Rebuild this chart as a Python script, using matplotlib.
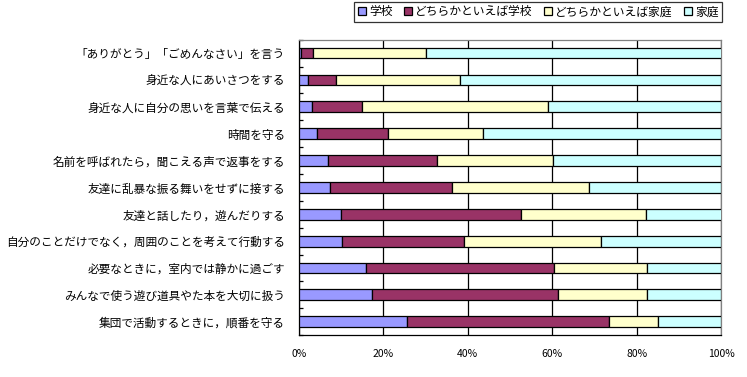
import numpy as np
import matplotlib.pyplot as plt

plt.rcParams['font.family'] = ['Noto Sans CJK JP', 'DejaVu Sans']

items = ['「ありがとう」「ごめんなさい」を言う',
         '身近な人にあいさつをする',
         '身近な人に自分の思いを言葉で伝える',
         '時間を守る',
         '名前を呼ばれたら，聞こえる声で返事をする',
         '友達に乱暴な振る舞いをせずに接する',
         '友達と話したり，遊んだりする',
         '自分のことだけでなく，周囲のことを考えて行動する',
         '必要なときに，室内では静かに過ごす',
         'みんなで使う遊び道具やた本を大切に扱う',
         '集団で活動するときに，順番を守る']

series = ['学校', 'どちらかといえば学校', 'どちらかといえば家庭', '家庭']
school = [0.5, 2.1, 3.2, 4.2, 7.0, 7.5, 9.9, 10.3, 15.8, 17.4, 25.7]
rather_school = [2.8, 6.6, 11.8, 16.8, 25.6, 28.7, 42.6, 28.7, 44.5, 44.0, 47.8]
rather_home = [26.8, 29.4, 44.1, 22.5, 27.5, 32.6, 29.6, 32.6, 22.0, 21.1, 11.6]
home = [70.0, 61.9, 40.9, 56.5, 39.9, 31.2, 18.0, 28.4, 17.7, 17.5, 14.9]
colors = ['#9999FF', '#993366', '#FFFFCC', '#CCFFFF']

fig = plt.figure(figsize=(7.47, 3.77), dpi=100)
ax = fig.add_axes([0.4, 0.111, 0.5656, 0.7837])

y = np.arange(len(items))
left = np.zeros(len(items))
for name, vals, c in zip(series, [school, rather_school, rather_home, home], colors):
    vals = np.array(vals)
    ax.barh(y, vals, left=left, height=0.4, color=c, edgecolor='black',
            linewidth=0.9, label=name, zorder=3)
    left += vals

ax.set_xlim(0, 100)
ax.set_ylim(len(items) - 0.5, -0.5)
ax.set_xticks([0, 20, 40, 60, 80, 100])
ax.set_xticklabels(['0%', '20%', '40%', '60%', '80%', '100%'], fontsize=7.5)
ax.tick_params(axis='x', length=0, pad=10)
ax.grid(axis='x', color='black', linewidth=0.9, zorder=0)

ax.set_yticks(y)
ax.set_yticklabels(items, fontsize=8.4)
ax.set_yticks(np.arange(len(items) + 1) - 0.5, minor=True)
ax.tick_params(axis='y', which='major', length=0, pad=10)
ax.tick_params(axis='y', which='minor', length=3, direction='in', width=0.9)

for s in ['left', 'bottom']:
    ax.spines[s].set_color('black')
    ax.spines[s].set_linewidth(0.9)
for s in ['top', 'right']:
    ax.spines[s].set_color('#808080')
    ax.spines[s].set_linewidth(0.9)

leg = fig.legend(loc='upper right', bbox_to_anchor=(0.967, 0.995), ncol=4,
                 fontsize=8.5, frameon=True, fancybox=False, edgecolor='black',
                 handlelength=0.7, handleheight=0.7, handletextpad=0.3,
                 columnspacing=0.9, borderpad=0.3, borderaxespad=0)
leg.get_frame().set_linewidth(0.9)

plt.savefig('out.png', dpi=100)
